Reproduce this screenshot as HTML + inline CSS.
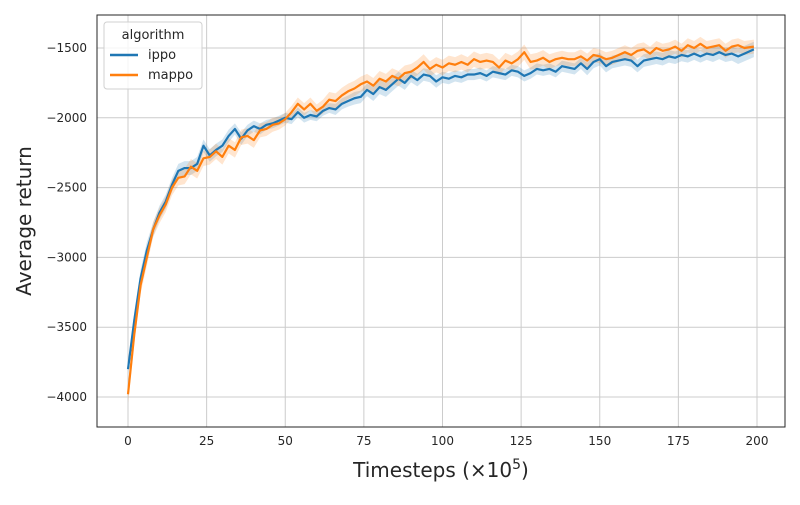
<!DOCTYPE html>
<html><head><meta charset="utf-8"><style>
body{margin:0;background:#fff;font-family:"Liberation Sans","DejaVu Sans",sans-serif}
svg text{font-family:"DejaVu Sans","Liberation Sans",sans-serif}
</style></head><body>
<svg id="chart" width="800" height="500" xmlns="http://www.w3.org/2000/svg">
<rect width="800" height="500" fill="#fff"/>
<g id="grid"></g><g id="bands"></g><g id="lines"></g><g id="axes"></g>
</svg>
<script>
const xTicks=[0,25,50,75,100,125,150,175,200];
const yTicks=[-4000,-3500,-3000,-2500,-2000,-1500];
const steps=[0,2,4,6,8,10,12,14,16,18,20,22,24,26,28,30,32,34,36,38,40,42,44,46,48,50,52,54,56,58,60,62,64,66,68,70,72,74,76,78,80,82,84,86,88,90,92,94,96,98,100,102,104,106,108,110,112,114,116,118,120,122,124,126,128,130,132,134,136,138,140,142,144,146,148,150,152,154,156,158,160,162,164,166,168,170,172,174,176,178,180,182,184,186,188,190,192,194,196,199];
const ippo=[-3800,-3450,-3150,-2950,-2800,-2680,-2600,-2480,-2380,-2360,-2360,-2330,-2200,-2270,-2230,-2200,-2130,-2080,-2150,-2090,-2060,-2080,-2050,-2040,-2020,-2000,-2010,-1960,-2000,-1980,-1990,-1950,-1930,-1940,-1900,-1880,-1860,-1850,-1800,-1830,-1780,-1800,-1760,-1720,-1750,-1700,-1730,-1690,-1700,-1740,-1710,-1720,-1700,-1710,-1690,-1690,-1680,-1700,-1670,-1680,-1690,-1660,-1670,-1700,-1680,-1650,-1660,-1650,-1670,-1630,-1640,-1650,-1610,-1650,-1600,-1580,-1630,-1600,-1590,-1580,-1590,-1630,-1590,-1580,-1570,-1580,-1560,-1570,-1550,-1560,-1540,-1560,-1540,-1550,-1530,-1550,-1540,-1560,-1540,-1510];
const mappo=[-3980,-3550,-3200,-3000,-2800,-2700,-2620,-2500,-2430,-2420,-2350,-2380,-2290,-2280,-2240,-2280,-2200,-2230,-2140,-2130,-2160,-2090,-2080,-2050,-2040,-2010,-1960,-1900,-1940,-1900,-1950,-1920,-1870,-1880,-1840,-1810,-1790,-1760,-1740,-1770,-1720,-1740,-1700,-1720,-1680,-1670,-1640,-1600,-1650,-1620,-1640,-1610,-1620,-1600,-1620,-1580,-1600,-1590,-1600,-1640,-1590,-1610,-1580,-1530,-1600,-1590,-1570,-1600,-1580,-1570,-1580,-1580,-1560,-1590,-1550,-1560,-1580,-1570,-1550,-1530,-1550,-1520,-1510,-1540,-1500,-1520,-1510,-1490,-1520,-1480,-1500,-1470,-1500,-1490,-1480,-1520,-1490,-1480,-1500,-1490];
const ippoErr=[40,60,60,60,50,50,50,50,50,50,50,50,45,45,45,45,45,40,45,40,40,40,35,35,35,35,35,35,35,35,35,35,35,40,40,40,45,45,45,50,50,50,50,50,50,45,45,45,45,45,40,40,40,40,40,40,40,40,40,40,40,40,40,40,40,40,40,40,40,40,40,40,40,45,45,45,45,45,45,45,45,45,45,45,45,45,45,45,45,45,45,45,45,50,50,50,50,55,55,55];
const mappoErr=[60,70,60,60,55,55,55,55,55,55,55,55,55,55,55,55,55,55,55,55,55,50,50,50,45,45,45,45,45,45,45,50,55,55,55,55,55,55,55,55,55,55,55,55,55,55,55,55,55,55,55,55,55,55,55,55,55,55,55,55,55,55,55,55,55,55,55,55,50,50,50,50,50,50,50,50,50,50,50,50,50,50,50,50,50,50,50,50,50,50,50,50,50,50,50,50,50,50,50,50];
const L=97,R=785,T=15,B=427;
const xs=v=>128+v*(757-128)/200;
const ys=v=>48+(-1500-v)*(397-48)/2500;
const NS="http://www.w3.org/2000/svg";
function mk(tag,attrs,parent,text){const e=document.createElementNS(NS,tag);for(const k in attrs)e.setAttribute(k,attrs[k]);if(text!==undefined)e.textContent=text;parent.appendChild(e);return e;}
const grid=document.getElementById('grid'),axes=document.getElementById('axes'),bands=document.getElementById('bands'),lines=document.getElementById('lines');
xTicks.forEach(t=>{
 const g=mk('line',{x1:xs(t),x2:xs(t),y1:T,y2:B,stroke:'#cccccc','stroke-width':1},grid);
 
 
 const tx=mk('text',{x:xs(t),y:445,'text-anchor':'middle','font-size':12,fill:'#262626'},axes,String(t));
 
 
});
yTicks.forEach(t=>{
 const g=mk('line',{x1:L,x2:R,y1:ys(t),y2:ys(t),stroke:'#cccccc','stroke-width':1},grid);
 
 
 const tx=mk('text',{x:87,y:ys(t)+4,'text-anchor':'end','font-size':12,fill:'#262626'},axes,'\u2212'+Math.abs(t));
 
 
});
function band(vals,err,color,name){
 let d='M'+steps.map((s,i)=>xs(s)+','+ys(vals[i]+err[i])).join('L');
 for(let i=steps.length-1;i>=0;i--)d+='L'+xs(steps[i])+','+ys(vals[i]-err[i]);
 const p=mk('path',{d:d+'Z',fill:color,'fill-opacity':0.2,stroke:'none'},bands);
 
 
}
function line(vals,color,name){
 const d='M'+steps.map((s,i)=>xs(s)+','+ys(vals[i])).join('L');
 const p=mk('path',{d:d,fill:'none',stroke:color,'stroke-width':2.2,'stroke-linejoin':'round'},lines);
 
 
}
band(ippo,ippoErr,'#1f77b4','ippo-band');
band(mappo,mappoErr,'#ff7f0e','mappo-band');
line(ippo,'#1f77b4','ippo-line');
line(mappo,'#ff7f0e','mappo-line');
const frame=mk('rect',{x:L,y:T,width:R-L,height:B-T,fill:'none',stroke:'#262626','stroke-width':1},axes);


const xt=mk('text',{x:441,y:477,'text-anchor':'middle','font-size':20,fill:'#262626'},axes);


xt.innerHTML='Timesteps (\u00d710<tspan dy="-8" font-size="14">5</tspan><tspan dy="8">)</tspan>';
const yt=mk('text',{x:31,y:221,'text-anchor':'middle','font-size':20,fill:'#262626',transform:'rotate(-90 31 221)'},axes,'Average return');


const lg=mk('g',{},axes);


mk('rect',{x:104,y:22,width:98,height:67,rx:3,fill:'#fff','fill-opacity':0.8,stroke:'#d0d0d0'},lg);
mk('text',{x:153,y:39,'text-anchor':'middle','font-size':13,fill:'#262626'},lg,'algorithm');
const e1=mk('g',{},lg);


mk('line',{x1:110,x2:138,y1:55,y2:55,stroke:'#1f77b4','stroke-width':2.5},e1);
mk('text',{x:148,y:59,'font-size':13,fill:'#262626'},e1,'ippo');
const e2=mk('g',{},lg);


mk('line',{x1:110,x2:138,y1:75,y2:75,stroke:'#ff7f0e','stroke-width':2.5},e2);
mk('text',{x:148,y:79,'font-size':13,fill:'#262626'},e2,'mappo');
</script>
</body></html>
